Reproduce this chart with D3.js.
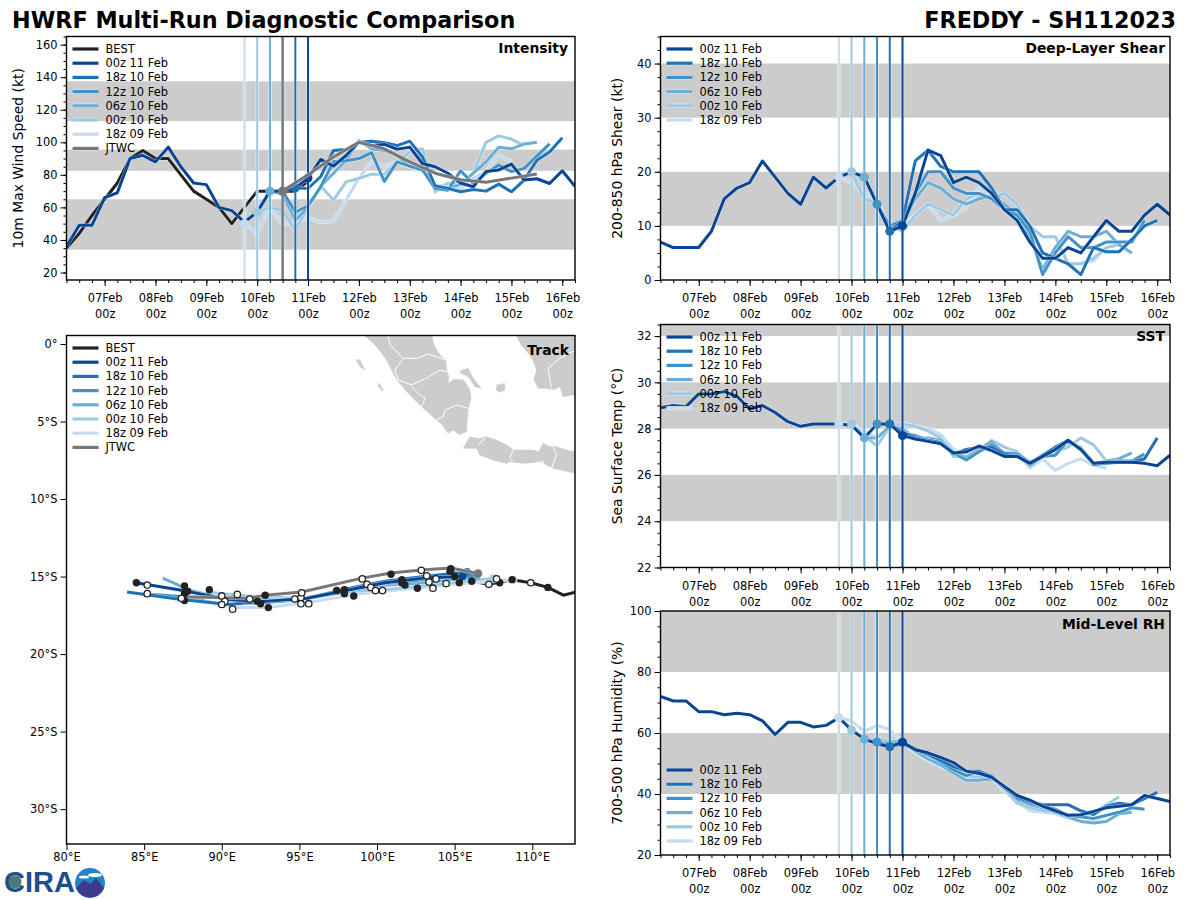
<!DOCTYPE html>
<html><head><meta charset="utf-8">
<style>
html,body{margin:0;padding:0;background:#fff}
svg{display:block}
text{font-family:"DejaVu Sans",sans-serif;fill:#000}
</style>
<script src="https://cdn.jsdelivr.net/npm/d3@7"></script>
</head><body>
<svg id="c" width="1200" height="900"></svg>
<script>
// ---------- labels ----------
const runLabels = ["18z 09 Feb","00z 10 Feb","06z 10 Feb","12z 10 Feb","18z 10 Feb","00z 11 Feb"];
const runInitDays = [9.75,10,10.25,10.5,10.75,6.25];   // first day of each plotted series
const runMarkDays = [9.75,10,10.25,10.5,10.75,11];     // model initial time
const bestLabel = "BEST", jtwcLabel = "JTWC";
const dayTicks = [7,8,9,10,11,12,13,14,15,16];

// ---------- intensity (kt) ----------
const vmaxBest = [35,44,55,65,75,90,95,90,90,80,70,65,60,50,60,70,70,70,70,76];
const vmaxJtwcDays = [10.5,11,11.5,12,12.5,13,13.5,14,14.5,15,15.5];
const vmaxJtwc = [70,80,91,100,96,88,81,77,75.5,78,80.5];
const vmaxRun18z09 = [50,44,60,50,50,53.6,50.8,51.6,64.5,78,88,85,88,85,84,72,75,71,78,82,92,88];
const vmaxRun00z10 = [57,60,58,46,60,73,64.5,75.7,77.8,80.4,80.4,88,94,96,69.6,74.7,75,81,100,104,102,98];
const vmaxRun06z10 = [70,68,52,60,73,81,89,101,96,95,92,85,84,73,72,74,81,88,97,96,99,100];
const vmaxRun12z10 = [70,57,61,72.7,88,88.7,90,93.6,76,88,85.4,83,71.7,70.6,82.5,74.7,81,86,82,84,91.5,99];
const vmaxRun18z10 = [72,71.6,79,95,95.6,100,100.7,99.7,98,100.7,91,73.3,71.7,69.6,71,70,74.3,69.6,76.8,89,94,102.8];
const vmaxRun00z11 = [36,49,49,66,69,90,92,88,97,85,75,74,60,58,51,57,70,70,72,78,89.5,85.4,92,100,98,98.7,95.8,97,87,85,81,75,72.7,82,83,86.6,76.8,77.6,74.7,82.5,73];

// ---------- shear (kt) ----------
const shearRun18z09 = [19,18,16,15,9,10,12,14,11,12,13.5,17,16,13,12,8.5,4,4,3,3,3.5,6];
const shearRun00z10 = [20,15,14,10,9,12,14,13,12,15,16,15,16,14,10,8,8,3,3,4,6,6.5];
const shearRun06z10 = [19,14,9.5,10.5,15,18,17,15,14,15,15.5,14,12,8,2,6,9,8,8,9,6.5,5];
const shearRun12z10 = [14,10,11,16,20,20,17,16,16,15,13,12,9,1,5,8,6,6,7,7,7,11];
const shearRun18z10 = [9,11,22,24,21,20,20,20,17,13,13,10,5,4,3,1,6,5.2,5.2,7.5,10,11];
const shearRun00z11 = [7,6,6,6,9,15,17,18,22,19,16,14,19,17,19,20,19,14,9,10,16,24,23,18,19,18,16,13,11,7,4,4,6,5,8,11,9,9,12,14,12];

// ---------- SST (deg C) ----------
const sstRun18z09 = [28.2,28.2,27.9,27.6,28,28.25,28.1,28,27.75,27.1,26.9,27.1,27.2,27,26.9,26.3,26.7,26.2,26.5,26.7,26.4,26.3];
const sstRun00z10 = [28.2,27.7,27.25,28.1,28.2,28.1,27.9,27.6,26.8,26.8,27,27.5,27.2,27,26.5,26.8,27,27.2,27.6,27.3,26.6,26.6];
const sstRun06z10 = [27.6,27.6,28.1,28,27.6,27.6,27.5,27,26.75,27.1,27.45,26.9,26.9,26.4,26.8,27.2,27.4,27.2,26.5,26.6,26.7,26.95];
const sstRun12z10 = [28.2,28.15,27.8,27.7,27.5,27.4,26.95,26.65,27,27.3,26.95,26.9,26.55,26.8,26.85,27.5,27.15,26.5,26.55,26.6,26.6,26.9];
const sstRun18z10 = [28.2,27.85,27.6,27.5,27.4,26.9,27.1,27.2,27.2,26.9,26.8,26.5,26.85,27.2,27.5,27.1,26.45,26.5,26.55,26.55,26.7,27.6];
const sstRun00z11 = [28.9,29,28.95,29.5,29.5,29.6,29.4,28.85,29,28.7,28.3,28.1,28.2,28.2,28.2,28.15,27.6,28.2,28.2,27.7,27.55,27.45,27.35,26.95,27,27.25,27.05,26.8,26.8,26.5,26.8,27.1,27.5,27.1,26.5,26.55,26.55,26.55,26.5,26.4,26.85];

// ---------- RH (%) ----------
const rhRun18z09 = [65,64,60.5,62.5,61,57,53.5,51,49,48,46,45,45.5,41,37.5,34.5,34,33.5,32,31,31,33];
const rhRun00z10 = [61,58,58,57.5,57,54,52,49.5,47.5,46,45.5,45.5,41.5,37,35.5,34.5,34,32.5,32.5,34,36.5,39];
const rhRun06z10 = [58,56.5,57,57.5,54,51.5,49.5,47,44.5,44.5,45,42.5,38,36.5,35.5,34,32.5,31,30.5,31,33.5,34];
const rhRun12z10 = [57,56,57,55,53,50.5,48,46,47.5,46,42,38.5,37,36,35,33,32.5,32,33,34,35.5,35];
const rhRun18z10 = [55.5,56.5,54.5,53,51,49,47.5,47.5,45.5,42,39,37.5,36.5,36.5,36.5,34.5,33.3,36,37,36.5,38.5,40.5];
const rhRun00z11 = [72,70.5,70.5,67,67,66,66.5,66,64,59.5,63.5,63.5,62,62.5,65,61,58,56.5,55.5,57,54.5,53.5,52,50.3,47.5,46.8,45.5,42.5,39.5,38,36,34.5,33,33.2,34.3,35.5,36,36.5,39.5,38.5,37.5];

// ---------- track (lon, lat) ----------
const trackBest = [[112.8,-16],[112,-16.2],[111,-15.7],[109.9,-15.4],[108.7,-15.2],[107.2,-15.5],[106.1,-15.3],[105.1,-15],[104.8,-14.5]];
const trackJtwc = [[106.5,-14.8],[104.76,-14.45],[102.83,-14.58],[100.9,-14.77],[99.03,-15.1],[95.15,-16],[92.78,-16.2],[91.69,-16.4],[87.5,-16.3]];
const trackRun18z09 = [[108.8,-15.2],[105,-15.5],[102,-15.8],[99,-16.1],[96,-16.6],[93,-17],[91,-17],[89.5,-16.8]];
const trackRun00z10 = [[107.5,-15.1],[104,-15.5],[101,-15.8],[98,-16],[95,-16.4],[92.5,-16.3],[91,-16.2],[89,-16]];
const trackRun06z10 = [[106.4,-15],[103,-15.4],[100,-15.6],[97.5,-16.1],[95,-16.5],[92,-16.5],[90,-16.4],[88,-15.9],[86.2,-15.1]];
const trackRun12z10 = [[106,-14.9],[103,-15.2],[100,-15.5],[97.5,-16],[95,-16.5],[92.5,-16.7],[90,-16.8],[87.5,-16.3],[85,-16.1]];
const trackRun18z10 = [[105.8,-14.7],[103,-15],[100.5,-15.3],[98,-15.8],[95.5,-16.4],[92.5,-16.6],[90.5,-16.8],[87.5,-16.5],[83.9,-16]];
const trackRun00z11 = [[105.5,-15],[103,-15.1],[100.5,-15.4],[98,-15.9],[95.5,-16.4],[92.8,-16.6],[90.5,-16.5],[87.5,-15.9],[84.5,-15.4]];
const fixesFilled = [[84.5,-15.4],[87.6,-15.6],[87.8,-15.95],[87.6,-16.1],[87.6,-16.55],[89.2,-15.85],[92.3,-16.6],[92.5,-16.75],[93,-17],[92.8,-16.2],[97.4,-15.9],[97.9,-15.85],[97.9,-16.1],[98.5,-16.25],[100.9,-14.85],[101.6,-15.2],[101.6,-15.4],[101.8,-15.55],[102.6,-15.75],[104.75,-14.5],[104.7,-14.65],[105,-15],[105.3,-15.4],[106.1,-15.3],[107.9,-15.4],[108.7,-15.2],[111,-15.7]];
const fixesOpen = [[85.2,-15.55],[85.2,-16.1],[87.4,-16.4],[90,-16.25],[90.2,-16.6],[90,-16.8],[90.7,-17.1],[91,-16.15],[91.8,-16.45],[94.7,-16.45],[95.1,-16.35],[95.15,-16.05],[95.1,-16.75],[95.6,-16.75],[99.05,-15.15],[99.35,-15.5],[99.6,-15.7],[99.9,-15.9],[100.35,-15.9],[102.85,-14.6],[103.2,-14.95],[103.8,-15.15],[103.35,-15.35],[103.6,-15.75],[104.45,-15.45],[107.2,-15.5],[107.7,-15.15],[109.9,-15.4]];

// ---------- land outlines (lon, lat) ----------
const landSumatra = [[99,0.8],[99.22,0.52],[99.6,0.2],[99.97,-0.17],[100.3,-0.6],[100.61,-1.03],[100.85,-1.5],[101.04,-1.89],[101.37,-2.43],[101.8,-2.95],[102.22,-3.4],[102.87,-4.04],[103.4,-4.5],[103.83,-4.9],[104.2,-5.2],[104.58,-5.76],[104.91,-5.55],[105.3,-5.85],[105.76,-5.66],[105.8,-5],[105.87,-4.26],[106.05,-3.5],[105.98,-2.97],[105.75,-2.55],[105.55,-2.32],[104.95,-2.28],[104.58,-2.54],[104.62,-2.1],[104.48,-1.68],[104.43,-1.03],[104.05,-0.7],[103.73,-0.17],[103.6,0.2],[103.51,0.8]];
const landJava = [[105.55,-6.73],[105.98,-5.98],[106.62,-6.09],[107.05,-5.98],[107.7,-6.19],[108.55,-6.62],[108.77,-6.84],[110.06,-6.84],[110.4,-6.95],[110.7,-6.41],[111.05,-6.6],[111.56,-6.62],[112.4,-6.9],[113,-6.95],[113,-8.4],[111.34,-8.02],[110.49,-7.59],[109.5,-7.7],[108.55,-7.59],[108.34,-7.7],[107.5,-7.5],[106.62,-7.16],[106.41,-6.73]];
const landBorneo = [[108.9,0.8],[108.98,0.52],[109.3,-0.1],[109.84,-0.71],[110.1,-1.2],[110.27,-1.68],[110.1,-2.3],[110.38,-2.86],[110.91,-2.86],[111.4,-2.95],[111.77,-2.75],[111.99,-3.4],[112.5,-3.3],[113,-3.29],[113,0.8]];
const landBangka = [[105.44,-1.68],[105.87,-1.57],[106.19,-2.2],[106.73,-2.86],[106.3,-2.75],[105.87,-2.11],[105.34,-1.85]];
const landBelitung = [[107.7,-2.64],[108.23,-2.54],[108.23,-2.97],[107.91,-3.12],[107.7,-2.97]];
const landSiberut = [[98.64,-0.99],[98.9,-1.03],[99.22,-1.68],[98.9,-1.46]];
const landPagai = [[100.08,-2.5],[100.25,-2.7],[100.42,-3.0],[100.3,-3.0],[100.08,-2.75]];
const borders = [
 [[100.7,0.6],[100.83,-0.06],[101.69,-0.92],[101.15,-1.68],[101.37,-2.32]],
 [[101.69,-0.92],[102.55,-0.92],[103.3,-0.65],[104.43,-1.03]],
 [[101.37,-2.32],[102.22,-2.64],[103.19,-2.2],[104.05,-1.68],[104.48,-1.78]],
 [[102.22,-2.75],[102.76,-3.29],[103.1,-3.5],[102.87,-4.04]],
 [[103.83,-4.9],[104.26,-4.69],[104.37,-4.26],[105.12,-3.94],[105.87,-4.15]],
 [[106.52,-6.5],[106.95,-6.09]],
 [[108.77,-6.84],[108.55,-7.37],[108.77,-7.59]],
 [[111.34,-6.62],[111.56,-7.16],[111.23,-8.02]],
 [[110.17,-7.7],[110.7,-7.59],[110.91,-8.1]],
 [[112.8,-0.39],[111.77,-0.92],[111.02,-1.57],[111.23,-2.86]]
];

// ---------- styling ----------
const runColors = ["#c6dbef","#9ecae1","#6baed6","#4292c6","#2171b5","#084594"];
const bestColor = "#222222", jtwcColor = "#777777", bandColor = "#cccccc";
const svg = d3.select("#c");
const L = 66.5, R = 575, L2 = 660.5, R2 = 1170;
const date = d => new Date(Date.UTC(2023,1,0,0,0,0) + d*864e5);
const xTicks = dayTicks.map(date);
const minorX = d3.range(6.25,16.3,0.25).map(date);
let cid = 0;

function frameAxes(g,x,y,yMajor,yMinor,x0,x1,y0,y1,yLabel,yLabelX){
  const xa = g.append("g").attr("transform",`translate(0,${y1})`);
  xa.call(d3.axisBottom(x).tickValues(minorX).tickSize(3).tickFormat("")).select(".domain").remove();
  const xb = g.append("g").attr("transform",`translate(0,${y1})`);
  xb.call(d3.axisBottom(x).tickValues(xTicks).tickSize(6).tickFormat(d3.utcFormat("%d%b")));
  xb.select(".domain").remove();
  xb.selectAll("text").attr("font-size",11.4).attr("y",13).attr("dy",0)
    .each(function(){ const t=d3.select(this), s=t.text(), xx=t.attr("x")||0;
      t.text(null);
      t.append("tspan").attr("x",xx).attr("dy","0.8em").text(s);
      t.append("tspan").attr("x",xx).attr("dy",16).text("00z");
    });
  const ya = g.append("g").attr("transform",`translate(${x0},0)`);
  ya.call(d3.axisLeft(y).tickValues(yMinor).tickSize(3).tickFormat("")).select(".domain").remove();
  const yb = g.append("g").attr("transform",`translate(${x0},0)`);
  yb.call(d3.axisLeft(y).tickValues(yMajor).tickSize(6)).select(".domain").remove();
  yb.selectAll("text").attr("font-size",11.4);
  g.selectAll(".tick line").attr("stroke","#000").attr("stroke-width",1);
  g.append("text").attr("transform",`translate(${yLabelX},${(y0+y1)/2}) rotate(-90)`)
    .attr("text-anchor","middle").attr("font-size",13.9).text(yLabel);
}
function frame(g,x0,x1,y0,y1){
  g.append("rect").attr("x",x0).attr("y",y0).attr("width",x1-x0).attr("height",y1-y0)
    .attr("fill","none").attr("stroke","#000").attr("stroke-width",1.4);
}
function stroke(g,d,color,w){
  g.append("path").attr("d",d).attr("fill","none").attr("stroke","#fff").attr("stroke-opacity",.6)
    .attr("stroke-width",w+1).attr("stroke-linejoin","round");
  g.append("path").attr("d",d).attr("fill","none").attr("stroke",color)
    .attr("stroke-width",w).attr("stroke-linejoin","round");
}
function legend(g,x,y,items){
  items.forEach((it,i)=>{
    const yy = y + i*14.2;
    stroke(g,d3.line()([[x,yy],[x+26,yy]]),it[1],3.2);
    g.append("text").attr("x",x+33).attr("y",yy+4).attr("font-size",11.4).text(it[0]);
  });
}
function panelTitle(g,x,y,t){
  g.append("text").attr("x",x).attr("y",y).attr("text-anchor","end")
    .attr("font-size",13.9).attr("font-weight","bold").text(t);
}

function series(o){
  const {x0,x1,y0,y1,dom,bands,major,minor,yLabel,labelX,title,titleY,runs,best,jtwc,jtwcDays,legendY} = o;
  const g = svg.append("g");
  const x = d3.scaleUtc().domain([date(6.25),date(16.25)]).range([x0,x1]);
  const y = d3.scaleLinear().domain(dom).range([y1,y0]);
  const id = "clip"+(cid++);
  g.append("clipPath").attr("id",id).append("rect").attr("x",x0).attr("y",y0).attr("width",x1-x0).attr("height",y1-y0);
  const p = g.append("g").attr("clip-path",`url(#${id})`);
  bands.forEach(b=>p.append("rect").attr("x",x0).attr("width",x1-x0)
    .attr("y",y(b[1])).attr("height",y(b[0])-y(b[1])).attr("fill",bandColor));
  const line = d3.line().x(d=>x(date(d[0]))).y(d=>y(d[1]));
  if(best) stroke(p,line(best.map((v,i)=>[6.25+i*0.25,v])),bestColor,3);
  const marks = [];
  runs.forEach((vals,k)=>{
    const pts = vals.map((v,i)=>[runInitDays[k]+i*0.25,v]);
    stroke(p,line(pts),runColors[k],3);
    marks.push([runMarkDays[k],pts.find(q=>q[0]===runMarkDays[k])[1],runColors[k]]);
  });
  runMarkDays.forEach((d,k)=>{
    const X = x(date(d));
    p.append("line").attr("x1",X).attr("x2",X).attr("y1",y0).attr("y2",y1).attr("stroke","#fff").attr("stroke-opacity",.6).attr("stroke-width",3.4);
    p.append("line").attr("x1",X).attr("x2",X).attr("y1",y0).attr("y2",y1).attr("stroke",runColors[k]).attr("stroke-width",2);
  });
  if(jtwc){
    const X = x(date(10.5));
    p.append("line").attr("x1",X).attr("x2",X).attr("y1",y0).attr("y2",y1).attr("stroke",jtwcColor).attr("stroke-width",2);
  }
  marks.forEach(m=>p.append("circle").attr("cx",x(date(m[0]))).attr("cy",y(m[1])).attr("r",4.5).attr("fill",m[2]));
  if(jtwc){
    stroke(p,line(jtwc.map((v,i)=>[jtwcDays[i],v])),jtwcColor,3);
    p.append("circle").attr("cx",x(date(10.5))).attr("cy",y(jtwc[0])).attr("r",4.5).attr("fill",jtwcColor);
  }
  frameAxes(g,x,y,major,minor,x0,x1,y0,y1,yLabel,labelX);
  frame(g,x0,x1,y0,y1);
  const items = [];
  if(best) items.push([bestLabel,bestColor]);
  for(let k=5;k>=0;k--) items.push([runLabels[k],runColors[k]]);
  if(jtwc) items.push([jtwcLabel,jtwcColor]);
  legend(g,x0+6,legendY,items);
  panelTitle(g,x1-(o.titleInset||7),titleY,title);
}

series({x0:L,x1:R,y0:36.5,y1:280,dom:[15.4,165],bands:[[34,65],[82.5,95.5],[113,137.5]],
  major:d3.range(20,161,20),minor:d3.range(20,166,5),yLabel:"10m Max Wind Speed (kt)",labelX:23,
  title:"Intensity",titleY:53,legendY:49,
  runs:[vmaxRun18z09,vmaxRun00z10,vmaxRun06z10,vmaxRun12z10,vmaxRun18z10,vmaxRun00z11],
  best:vmaxBest,jtwc:vmaxJtwc,jtwcDays:vmaxJtwcDays});
series({x0:L2,x1:R2,y0:36.5,y1:280,dom:[0,45],bands:[[10,20],[30,40]],
  major:d3.range(0,41,10),minor:d3.range(0,46,2.5),yLabel:"200-850 hPa Shear (kt)",labelX:622,
  title:"Deep-Layer Shear",titleInset:5,titleY:53,legendY:49,
  runs:[shearRun18z09,shearRun00z10,shearRun06z10,shearRun12z10,shearRun18z10,shearRun00z11]});
series({x0:L2,x1:R2,y0:324.5,y1:567.5,dom:[22,32.5],bands:[[24,26],[28,30],[32,33]],
  major:d3.range(22,33,2),minor:d3.range(22,32.6,0.5),yLabel:"Sea Surface Temp (°C)",labelX:622,
  title:"SST",titleInset:5,titleY:341,legendY:337,
  runs:[sstRun18z09,sstRun00z10,sstRun06z10,sstRun12z10,sstRun18z10,sstRun00z11]});
series({x0:L2,x1:R2,y0:611,y1:855,dom:[20,100],bands:[[40,60],[80,100]],
  major:d3.range(20,101,20),minor:d3.range(20,101,5),yLabel:"700-500 hPa Humidity (%)",labelX:622,
  title:"Mid-Level RH",titleInset:5,titleY:629,legendY:770,
  runs:[rhRun18z09,rhRun00z10,rhRun06z10,rhRun12z10,rhRun18z10,rhRun00z11]});

// ---------- track map ----------
(function(){
  const x0=L,x1=R,y0=335.5,y1=844;
  const g = svg.append("g");
  const x = d3.scaleLinear().domain([80,112.75]).range([x0,x1]);
  const y = d3.scaleLinear().domain([0.55,-32.25]).range([y0,y1]);
  g.append("clipPath").attr("id","clipT").append("rect").attr("x",x0).attr("y",y0).attr("width",x1-x0).attr("height",y1-y0);
  const p = g.append("g").attr("clip-path","url(#clipT)");
  const line = d3.line().x(d=>x(d[0])).y(d=>y(d[1]));
  [landSumatra,landJava,landBorneo,landBangka,landBelitung,landSiberut,landPagai].forEach(l=>
    p.append("path").attr("d",line(l)+"Z").attr("fill",bandColor).attr("stroke",bandColor).attr("stroke-width",.5));
  borders.forEach(b=>p.append("path").attr("d",line(b)).attr("fill","none").attr("stroke","#fff").attr("stroke-width",1));
  stroke(p,line(trackBest),bestColor,3);
  [trackRun18z09,trackRun00z10,trackRun06z10,trackRun12z10,trackRun18z10,trackRun00z11].forEach((t,k)=>{
    stroke(p,line(t),runColors[k],3);
    p.append("circle").attr("cx",x(t[0][0])).attr("cy",y(t[0][1])).attr("r",3.8).attr("fill",runColors[k]);
  });
  stroke(p,line(trackJtwc),jtwcColor,3);
  p.append("circle").attr("cx",x(trackJtwc[0][0])).attr("cy",y(trackJtwc[0][1])).attr("r",4.3).attr("fill",jtwcColor);
  fixesFilled.forEach(f=>p.append("circle").attr("cx",x(f[0])).attr("cy",y(f[1])).attr("r",3.7).attr("fill",bestColor));
  fixesOpen.forEach(f=>p.append("circle").attr("cx",x(f[0])).attr("cy",y(f[1])).attr("r",3.2).attr("fill","#fff").attr("stroke",bestColor).attr("stroke-width",1.3));
  const xb = g.append("g").attr("transform",`translate(0,${y1})`)
    .call(d3.axisBottom(x).tickValues(d3.range(80,111,5)).tickSize(6).tickFormat(d=>d+"°E"));
  xb.select(".domain").remove();
  xb.selectAll("text").attr("font-size",11.4);
  const yb = g.append("g").attr("transform",`translate(${x0},0)`)
    .call(d3.axisLeft(y).tickValues(d3.range(0,-31,-5)).tickSize(6).tickFormat(d=>d===0?"0°":(-d)+"°S"));
  yb.select(".domain").remove();
  yb.selectAll("text").attr("font-size",11.4);
  g.selectAll(".tick line").attr("stroke","#000");
  frame(g,x0,x1,y0,y1);
  const items=[[bestLabel,bestColor]];
  for(let k=5;k>=0;k--) items.push([runLabels[k],runColors[k]]);
  items.push([jtwcLabel,jtwcColor]);
  legend(g,x0+6,348,items);
  panelTitle(g,x1-6,355,"Track");
})();

// ---------- titles ----------
svg.append("text").attr("x",12).attr("y",28).attr("font-size",22.3).attr("font-weight","bold").text("HWRF Multi-Run Diagnostic Comparison");
svg.append("text").attr("x",1176).attr("y",28).attr("text-anchor","end").attr("font-size",22.3).attr("font-weight","bold").text("FREDDY - SH112023");

// ---------- logo ----------
const logo = svg.append("g");
logo.append("text").attr("x",4).attr("y",892).style("font-family","Liberation Sans").style("fill","#1d4f8c").attr("font-size",29).attr("font-weight","bold").text("CIRA");
logo.append("circle").attr("cx",15).attr("cy",882).attr("r",6.5).attr("fill","#4d7a78");
logo.append("circle").attr("cx",90).attr("cy",883).attr("r",15).attr("fill","#1f84c8");
logo.append("path").attr("d","M76 888 L84 880 L90 884 L96 878 L104 888 A15 15 0 0 1 76 888Z").attr("fill","#3e3a8e");
logo.append("ellipse").attr("cx",95).attr("cy",875).attr("rx",7).attr("ry",2).attr("fill","#fff");
logo.append("ellipse").attr("cx",84).attr("cy",877).attr("rx",5).attr("ry",1.5).attr("fill","#fff");
</script>
</body></html>
